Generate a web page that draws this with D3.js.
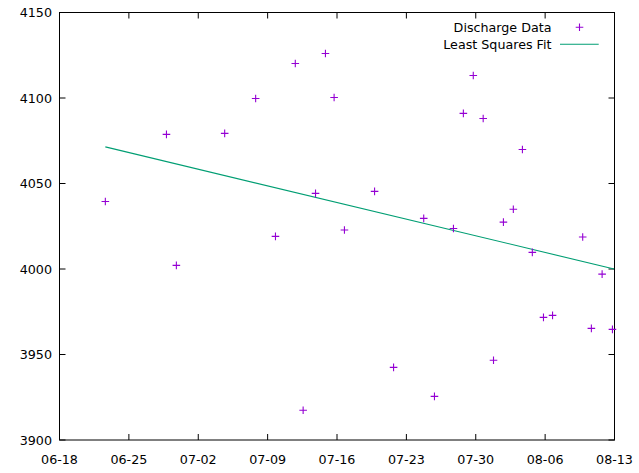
<!DOCTYPE html>
<html lang="en">
<head>
<meta charset="utf-8">
<title>discharge</title>
<script src="https://d3js.org/d3.v7.min.js"></script>
<style>
  body{margin:0;background:#fff;}
  svg{display:block;font-family:"DejaVu Sans",sans-serif;}
</style>
</head>
<body>
<div id="chart1"></div>
<script>
// readings (date/time of each measurement and the discharge)
var dates = ["06-22 15:00","06-28 19:00","06-29 19:00","07-04 16:00","07-07 19:00","07-09 19:00",
             "07-11 19:00","07-12 14:00","07-13 20:00","07-14 20:00","07-15 17:00","07-16 18:00",
             "07-19 19:00","07-21 17:00","07-24 18:00","07-25 20:00","07-27 18:00","07-28 18:00",
             "07-29 18:00","07-30 18:00","07-31 19:00","08-01 19:00","08-02 19:00","08-03 17:00",
             "08-04 17:00","08-05 20:00","08-06 18:00","08-09 19:00","08-10 16:00","08-11 18:00",
             "08-12 19:00"]
var discharge = [4039.5,4078.7,4002.1,4079.3,4099.7,4019.1,
                 4120.2,3917.4,4044.2,4126.0,4100.3,4022.8,
                 4045.4,3942.5,4029.6,3925.5,4023.7,4091.0,
                 4113.2,4088.0,3946.6,4027.4,4034.9,4069.9,
                 4009.7,3971.7,3972.9,4018.7,3965.3,3997.0,
                 3964.7]
// fit line read at the first and last reading
var fitDates = ["06-22 15:00","08-12 23:00"]
var fitValues = [4071.4,4000.0]
var xTicks = ["06-18","06-25","07-02","07-09","07-16","07-23","07-30","08-06","08-13"]
var yTicks = [3900,3950,4000,4050,4100,4150]

var parse = d3.timeParse("%Y-%m-%d %H:%M")
var parseDay = d3.timeParse("%Y-%m-%d")
function toDate(s){ return parse("2019-"+s) }

var w = 639, h = 473
var mLeft = 59.5, mRight = 614.5, mTop = 12.5, mBottom = 440
var fs = 12.7

var svg = d3.select("#chart1").append("svg").attr("width",w).attr("height",h)

var xScale = d3.scaleTime()
    .domain([parseDay("2019-06-18"), parseDay("2019-08-13")])
    .range([mLeft,mRight])
var yScale = d3.scaleLinear().domain([3900,4150]).range([mBottom,mTop])

var tickDates = xTicks.map(function(t){ return parseDay("2019-"+t) })

// inward ticks on all four sides, gnuplot style
var ax = svg.append("g").attr("stroke","#000").attr("stroke-width",1)
ax.selectAll(".xb").data(tickDates).enter().append("line")
    .attr("x1",function(d){ return xScale(d) }).attr("x2",function(d){ return xScale(d) })
    .attr("y1",mBottom).attr("y2",mBottom-6)
ax.selectAll(".xt").data(tickDates).enter().append("line")
    .attr("x1",function(d){ return xScale(d) }).attr("x2",function(d){ return xScale(d) })
    .attr("y1",mTop).attr("y2",mTop+6)
ax.selectAll(".yl").data(yTicks).enter().append("line")
    .attr("x1",mLeft).attr("x2",mLeft+6)
    .attr("y1",function(d){ return yScale(d) }).attr("y2",function(d){ return yScale(d) })
ax.selectAll(".yr").data(yTicks).enter().append("line")
    .attr("x1",mRight).attr("x2",mRight-6)
    .attr("y1",function(d){ return yScale(d) }).attr("y2",function(d){ return yScale(d) })
ax.append("rect").attr("x",mLeft).attr("y",mTop)
    .attr("width",mRight-mLeft).attr("height",mBottom-mTop).attr("fill","none")

svg.selectAll(".ylab").data(yTicks).enter().append("text")
    .attr("x",mLeft-7.5).attr("y",function(d){ return yScale(d) })
    .attr("dy","0.36em").attr("text-anchor","end")
    .attr("font-size",fs).attr("fill","#000")
    .text(function(d){ return d })
svg.selectAll(".xlab").data(tickDates).enter().append("text")
    .attr("x",function(d){ return xScale(d) }).attr("y",mBottom+19.5)
    .attr("dy","0.36em").attr("text-anchor","middle")
    .attr("font-size",fs).attr("fill","#000")
    .text(d3.timeFormat("%m-%d"))

// fit line
var fit = fitDates.map(function(d,i){ return [toDate(d), fitValues[i]] })
svg.append("path")
    .attr("d", d3.line().x(function(d){ return xScale(d[0]) }).y(function(d){ return yScale(d[1]) })(fit))
    .attr("fill","none").attr("stroke","#009e73").attr("stroke-width",1.1)

// data points as plus signs
var pts = dates.map(function(d,i){ return [toDate(d), discharge[i]] })
var r = 3.8
function plus(g, x, y){
    g.append("path")
        .attr("d","M"+(x-r)+","+y+"H"+(x+r)+"M"+x+","+(y-r)+"V"+(y+r))
        .attr("stroke","#9400d3").attr("stroke-width",1.1).attr("fill","none")
}
var pg = svg.append("g")
pts.forEach(function(p){ plus(pg, xScale(p[0]), yScale(p[1])) })

// legend
var lg = svg.append("g").attr("font-size",fs).attr("fill","#000")
lg.append("text").attr("x",551.5).attr("y",27.3).attr("dy","0.36em")
    .attr("text-anchor","end").text("Discharge Data")
lg.append("text").attr("x",551.5).attr("y",44.3).attr("dy","0.36em")
    .attr("text-anchor","end").text("Least Squares Fit")
plus(lg, 579.5, 27.3)
lg.append("line").attr("x1",560).attr("x2",598.7).attr("y1",44.3).attr("y2",44.3)
    .attr("stroke","#009e73").attr("stroke-width",1.1)
</script>
</body>
</html>
